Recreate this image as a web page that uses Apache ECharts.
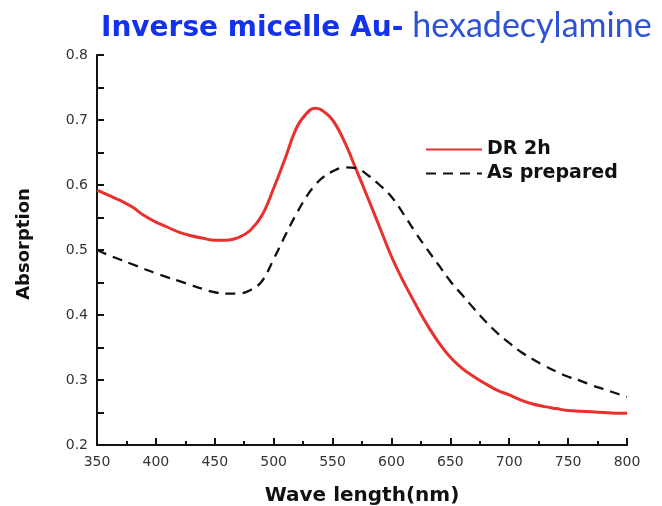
<!DOCTYPE html>
<html><head><meta charset="utf-8">
<script src="https://cdn.jsdelivr.net/npm/echarts@6/dist/echarts.min.js"></script>
<style>html,body{margin:0;padding:0;background:#fff}#c{width:662px;height:506px}</style>
</head><body><div id="c"></div>
<script>
const wavelengths = [350,360,370,380,390,400,410,420,430,440,450,460,470,480,490,500,510,520,530,535,540,550,560,570,580,590,600,610,620,630,640,650,660,670,680,690,700,710,720,730,740,750,760,770,780,790,800];
const dr2h = [0.592,0.584,0.576,0.566,0.553,0.543,0.535,0.527,0.522,0.518,0.515,0.515,0.519,0.530,0.553,0.595,0.642,0.690,0.714,0.718,0.716,0.700,0.667,0.624,0.580,0.535,0.490,0.452,0.418,0.386,0.358,0.335,0.318,0.305,0.294,0.284,0.277,0.269,0.263,0.259,0.256,0.253,0.252,0.251,0.250,0.249,0.249];
const asPrepared = [0.500,0.492,0.485,0.478,0.471,0.464,0.458,0.452,0.446,0.440,0.435,0.433,0.433,0.438,0.452,0.486,0.523,0.558,0.588,0.599,0.609,0.621,0.627,0.626,0.615,0.600,0.582,0.556,0.528,0.502,0.477,0.452,0.431,0.410,0.390,0.372,0.357,0.343,0.332,0.322,0.313,0.305,0.299,0.292,0.286,0.280,0.274];
const seriesNames = ['DR 2h','As prepared'];
const titleBold = 'Inverse micelle Au-';
const titleLight = 'hexadecylamine';

const chart = echarts.init(document.getElementById('c'));
const pair = (ys) => wavelengths.map((x,i)=>[x, ys[i]]);
const F = 'DejaVu Sans, Verdana, sans-serif';
chart.setOption({
  animation:false,
  backgroundColor:'#fff',
  title:{
    text:'{a|'+titleBold+'}{b|'+titleLight+'}',
    left:96, top:4,
    textStyle:{rich:{
      a:{fontFamily:F,fontWeight:'bold',fontSize:28,color:'#1232ee',verticalAlign:'bottom'},
      b:{fontFamily:'Lato, Noto Sans',fontWeight:'normal',fontSize:34,color:'#2e52d6',verticalAlign:'bottom',padding:[0,0,0,9]}
    }}
  },
  legend:{
    orient:'vertical', left:420, top:135, itemWidth:56, itemHeight:14, itemGap:5,
    itemStyle:{color:'rgba(0,0,0,0)',borderWidth:0},
    textStyle:{fontFamily:F,fontWeight:'bold',fontSize:19,color:'#111'},
    data:seriesNames
  },
  grid:{left:97, right:35, top:55, bottom:61, outerBoundsMode:'none', containLabel:false},
  xAxis:{
    type:'value', min:350, max:800, interval:50,
    name:'Wave length(nm)', nameLocation:'middle', nameGap:41,
    nameTextStyle:{fontFamily:F,fontWeight:'bold',fontSize:20,color:'#111'},
    axisLine:{show:true,lineStyle:{color:'#111',width:2}},
    axisTick:{show:true,inside:true,length:7,lineStyle:{color:'#111',width:2}},
    minorTick:{show:true,splitNumber:2,length:4,lineStyle:{color:'#111',width:2}},
    axisLabel:{fontFamily:F,fontSize:14,color:'#333',margin:10},
    splitLine:{show:false}
  },
  yAxis:{
    type:'value', min:0.2, max:0.8, interval:0.1,
    name:'Absorption', nameLocation:'middle', nameGap:64, nameRotate:90,
    nameTextStyle:{fontFamily:F,fontWeight:'bold',fontSize:18,color:'#111',padding:[0,0,0,12]},
    axisLine:{show:true,lineStyle:{color:'#111',width:2}},
    axisTick:{show:true,inside:true,length:7,lineStyle:{color:'#111',width:2}},
    minorTick:{show:true,splitNumber:2,length:7,lineStyle:{color:'#111',width:2}},
    axisLabel:{fontFamily:F,fontSize:14,color:'#333',margin:9,formatter:v=>v.toFixed(1)},
    splitLine:{show:false}
  },
  series:[
    {name:seriesNames[0],type:'line',smooth:0.4,showSymbol:false,symbol:'none',data:pair(dr2h),
     itemStyle:{color:'#e8302c'},lineStyle:{color:'#e8302c',width:3}},
    {name:seriesNames[1],type:'line',smooth:0.4,showSymbol:false,symbol:'none',data:pair(asPrepared),
     itemStyle:{color:'#111'},lineStyle:{color:'#111',width:2.3,type:[10,7]}}
  ]
});
</script></body></html>
